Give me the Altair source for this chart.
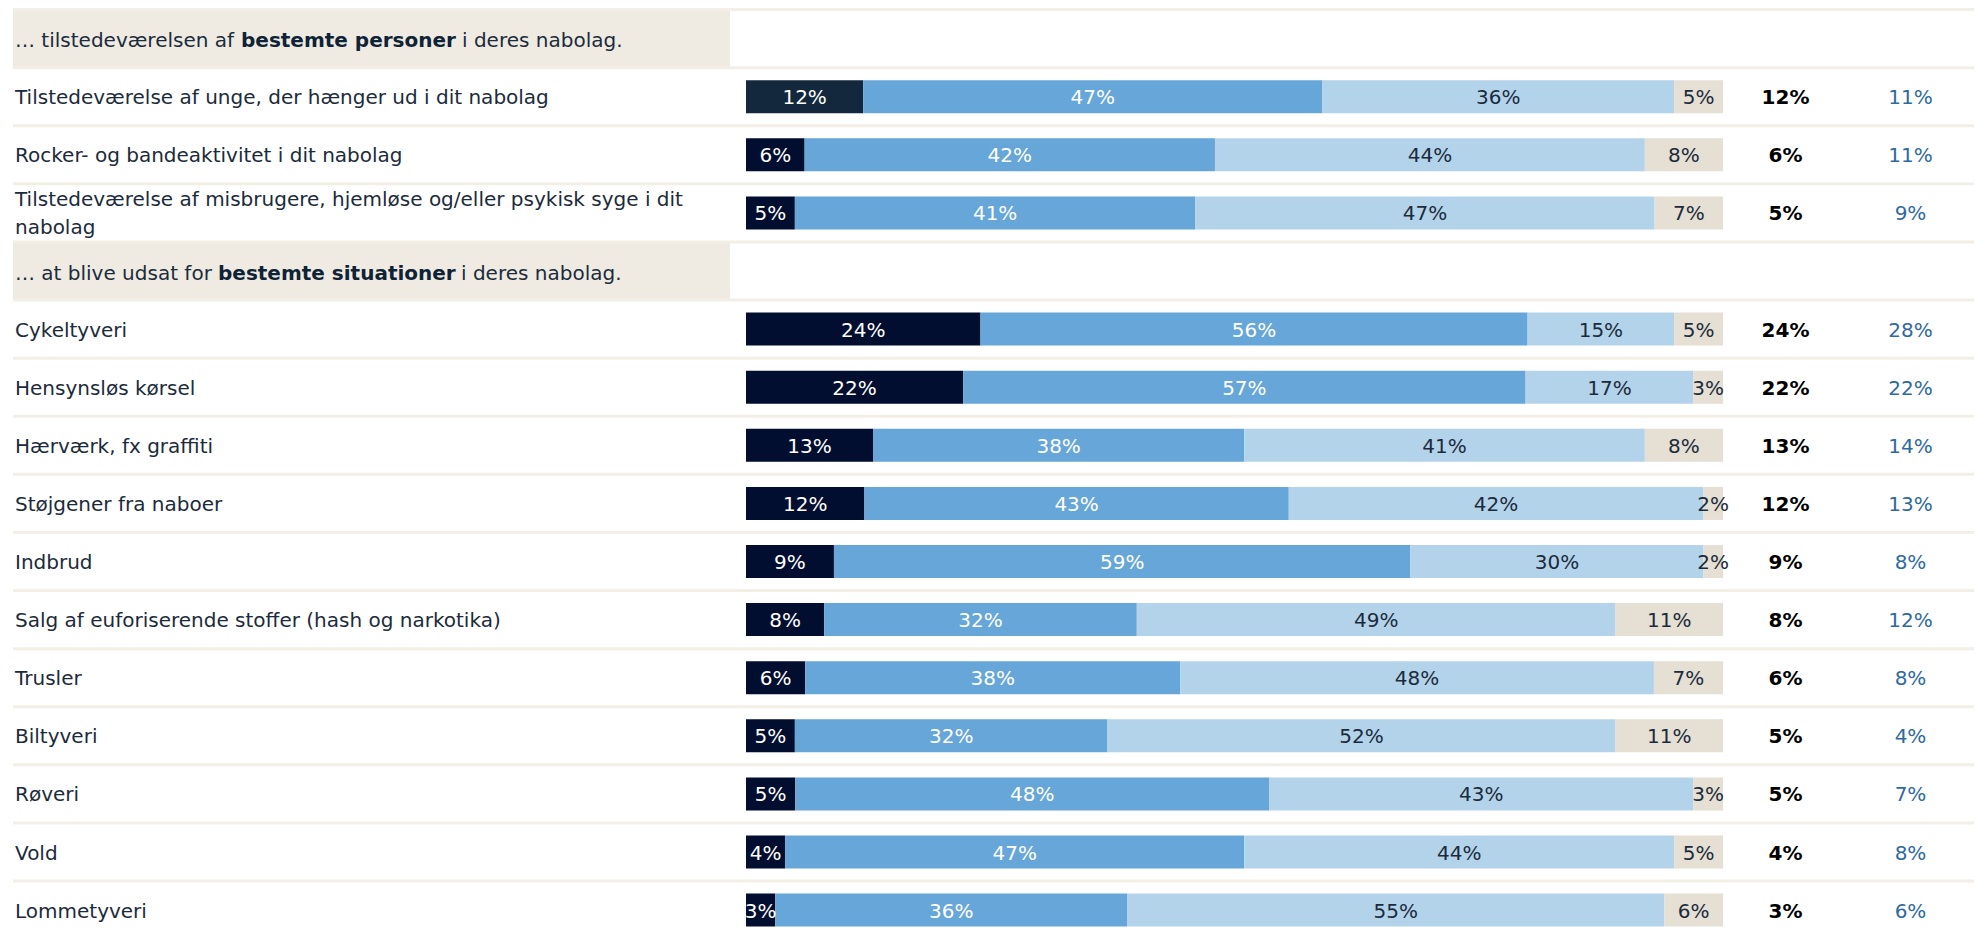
import altair as alt
import pandas as pd

# ---------------- data ----------------
row_labels = [
    "Tilstedeværelse af unge, der hænger ud i dit nabolag",
    "Rocker- og bandeaktivitet i dit nabolag",
    "Tilstedeværelse af misbrugere, hjemløse og/eller psykisk syge i dit\nnabolag",
    "Cykeltyveri",
    "Hensynsløs kørsel",
    "Hærværk, fx graffiti",
    "Støjgener fra naboer",
    "Indbrud",
    "Salg af euforiserende stoffer (hash og narkotika)",
    "Trusler",
    "Biltyveri",
    "Røveri",
    "Vold",
    "Lommetyveri",
]
row_index = [1, 2, 3, 5, 6, 7, 8, 9, 10, 11, 12, 13, 14, 15]
seg1 = [12, 6, 5, 24, 22, 13, 12, 9, 8, 6, 5, 5, 4, 3]
seg2 = [47, 42, 41, 56, 57, 38, 43, 59, 32, 38, 32, 48, 47, 36]
seg3 = [36, 44, 47, 15, 17, 41, 42, 30, 49, 48, 52, 43, 44, 55]
seg4 = [5, 8, 7, 5, 3, 8, 2, 2, 11, 7, 11, 3, 5, 6]
kbh = [11, 11, 9, 28, 22, 14, 13, 8, 12, 8, 4, 7, 8, 6]

header_rows = [0, 4]
header_prefix = ["… tilstedeværelsen af", "… at blive udsat for"]
header_bold = ["bestemte personer", "bestemte situationer"]
header_suffix = ["i deres nabolag.", "i deres nabolag."]

# ---------------- layout / style ----------------
W, H = 1966, 921
ROW_PX = 58.1
TOP_PX = 30.6
BAR_X0, BAR_X1 = 738, 1715
BAR_HALF = 0.284
FONT = "DejaVu Sans"
FS = 20
LINE_H = 28
DY = 1.5
unit = (BAR_X1 - BAR_X0) / 100.0
x_dom = [-BAR_X0 / unit, (W - BAR_X0) / unit]
y_dom = [-TOP_PX / ROW_PX, (H - TOP_PX) / ROW_PX]
xs = alt.Scale(domain=x_dom, range=[0, W], nice=False, zero=False)
ys = alt.Scale(domain=y_dom, range=[0, H], nice=False, zero=False)
SEG_COLORS = ["#020e2f", "#67a6d8", "#b3d3eb", "#e5dfd4"]
TEXT_DARK = "#1c2b3b"
HEADER_X = [(7, 233, 454), (7, 210, 453)]

# ---------------- tables ----------------
recs = []
for r, a, b, c, d in zip(row_index, seg1, seg2, seg3, seg4):
    for s, v in enumerate([a, b, c, d]):
        recs.append({"row": r, "seg": s, "value": v})
bar_df = pd.DataFrame(recs)
row_df = pd.DataFrame({"row": row_index, "label": row_labels, "first": seg1, "kbh": kbh})
head_df = pd.DataFrame({"row": header_rows, "pre": header_prefix, "bold": header_bold, "suf": header_suffix})
sep_df = pd.DataFrame({"b": [i + 0.5 for i in range(-1, 16)]})

Y = lambda f: alt.Y(f, scale=ys, axis=None)
X = lambda f: alt.X(f, scale=xs, axis=None)

# header bands
bands = alt.Chart(head_df).transform_calculate(
    y0="datum.row - 0.5", y1="datum.row + 0.5"
).mark_rect(color="#efebe3").encode(
    x=alt.value(5), x2=alt.value(722), y=Y("y0:Q"), y2="y1:Q"
)

seps = alt.Chart(sep_df).mark_rule(color="#f3efe6", strokeWidth=3).encode(
    y=Y("b:Q"), x=alt.value(5), x2=alt.value(W)
)

stacked = alt.Chart(bar_df).transform_stack(
    stack="value", groupby=["row"], as_=["s0", "s1"], offset="normalize",
    sort=[alt.SortField("seg", "ascending")]
).transform_calculate(
    x0="datum.s0*100", x1="datum.s1*100", xm="(datum.s0+datum.s1)*50",
    yt=f"datum.row - {BAR_HALF}", yb=f"datum.row + {BAR_HALF}",
    lbl='datum.value + "%"'
)

bars = stacked.mark_rect().encode(
    x=X("x0:Q"), x2="x1:Q", y=Y("yt:Q"), y2="yb:Q",
    color=alt.condition(
        "datum.row == 1 && datum.seg == 0",
        alt.value("#13283c"),
        alt.Color("seg:O", scale=alt.Scale(domain=[0, 1, 2, 3], range=SEG_COLORS), legend=None),
    ),
)

bar_text = stacked.mark_text(font=FONT, fontSize=FS, align="center", baseline="middle", dy=DY).encode(
    x=X("xm:Q"), y=Y("row:Q"), text="lbl:N",
    color=alt.condition("datum.seg < 2", alt.value("white"), alt.value(TEXT_DARK)),
)

labels = alt.Chart(row_df).transform_calculate(
    ly=f"datum.row - (length(split(datum.label, '\\n')) - 1) * {LINE_H / 2 / ROW_PX}"
).mark_text(
    font=FONT, fontSize=FS, align="left", baseline="middle", lineBreak="\n", lineHeight=LINE_H,
    color=TEXT_DARK, dy=DY
).encode(x=alt.value(7), y=Y("ly:Q"), text="label:N")

first_col = alt.Chart(row_df).transform_calculate(t='datum.first + "%"').mark_text(
    font=FONT, fontSize=FS, fontWeight="bold", align="center", baseline="middle", color="#000000", dy=DY
).encode(x=alt.value(1777.5), y=Y("row:Q"), text="t:N")

kbh_col = alt.Chart(row_df).transform_calculate(t='datum.kbh + "%"').mark_text(
    font=FONT, fontSize=FS, align="center", baseline="middle", color="#2e6aa0", dy=DY
).encode(x=alt.value(1902.5), y=Y("row:Q"), text="t:N")

head_layers = []
for i, (xp, xb, xsuf) in enumerate(HEADER_X):
    one = alt.Chart(head_df).transform_filter(f"datum.row == {header_rows[i]}")
    head_layers.append(one.mark_text(font=FONT, fontSize=FS, align="left", baseline="middle", color=TEXT_DARK, dy=DY + 1)
                       .encode(x=alt.value(xp), y=Y("row:Q"), text="pre:N"))
    head_layers.append(one.mark_text(font=FONT, fontSize=FS, fontWeight="bold", align="left", baseline="middle",
                                     color="#0f2336", dy=DY + 1)
                       .encode(x=alt.value(xb), y=Y("row:Q"), text="bold:N"))
    head_layers.append(one.mark_text(font=FONT, fontSize=FS, align="left", baseline="middle", color=TEXT_DARK, dy=DY + 1)
                       .encode(x=alt.value(xsuf), y=Y("row:Q"), text="suf:N"))

chart = alt.layer(bands, seps, bars, bar_text, labels, first_col, kbh_col, *head_layers).properties(
    width=W, height=H, padding=0, background="white",
    autosize=alt.AutoSizeParams(type="none"),
).configure_view(stroke=None)

chart.save("out.html", embed_options={"renderer": "svg", "actions": False})
